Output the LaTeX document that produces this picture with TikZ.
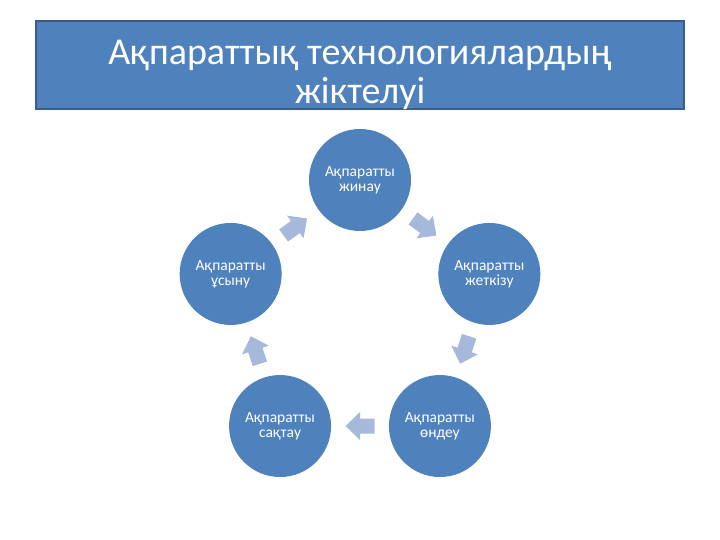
\documentclass[tikz,border=0pt]{standalone}
\usepackage{fontspec}
\setmainfont{Carlito}
\usetikzlibrary{calc}
\definecolor{accent}{HTML}{4F81BD}
\definecolor{titleborder}{HTML}{385D8A}
\definecolor{arrowfill}{RGB}{167,185,219}
\begin{document}
\begin{tikzpicture}[x=1pt,y=1pt,
  stage/.style={circle, fill=accent, minimum size=102pt, inner sep=0pt, text=white,
    font=\fontsize{15.5}{15}\selectfont, align=center},
  titlebox/.style={draw=titleborder, line width=2.5pt, fill=accent, minimum width=648pt,
    minimum height=88pt, inner sep=0pt},
  titletext/.style={inner sep=0pt, text=white, align=center,
    font=\fontsize{38}{39}\selectfont},
  cyc/.pic={\fill[arrowfill] (-14.5,-7.5) -- (0,-7.5) -- (0,-14) -- (14.5,0) -- (0,14) -- (0,7.5) -- (-14.5,7.5) -- cycle;}]
\useasboundingbox (0,0) rectangle (720,540);
\node[titlebox] (title) at (360,475) {};
\node[titletext] (titlelabel) at (360,465) {Ақпараттық технологиялардың\\жіктелуі};
\coordinate (c) at (360,224);
\node[stage] (n1) at ([shift={(90:136)}]c) {Ақпаратты\\жинау};
\node[stage] (n2) at ([shift={(18:136)}]c) {Ақпаратты\\жеткізу};
\node[stage] (n3) at ([shift={(-54:136)}]c) {Ақпаратты\\өндеу};
\node[stage] (n4) at ([shift={(-126:136)}]c) {Ақпаратты\\сақтау};
\node[stage] (n5) at ([shift={(162:136)}]c) {Ақпаратты\\ұсыну};
\pic[rotate=-36] at ($(n1)!0.5!(n2)$) {cyc};
\pic[rotate=-108] at ($(n2)!0.5!(n3)$) {cyc};
\pic[rotate=180] at ($(n3)!0.5!(n4)$) {cyc};
\pic[rotate=108] at ($(n4)!0.5!(n5)$) {cyc};
\pic[rotate=36] at ($(n5)!0.5!(n1)$) {cyc};
\end{tikzpicture}
\end{document}
